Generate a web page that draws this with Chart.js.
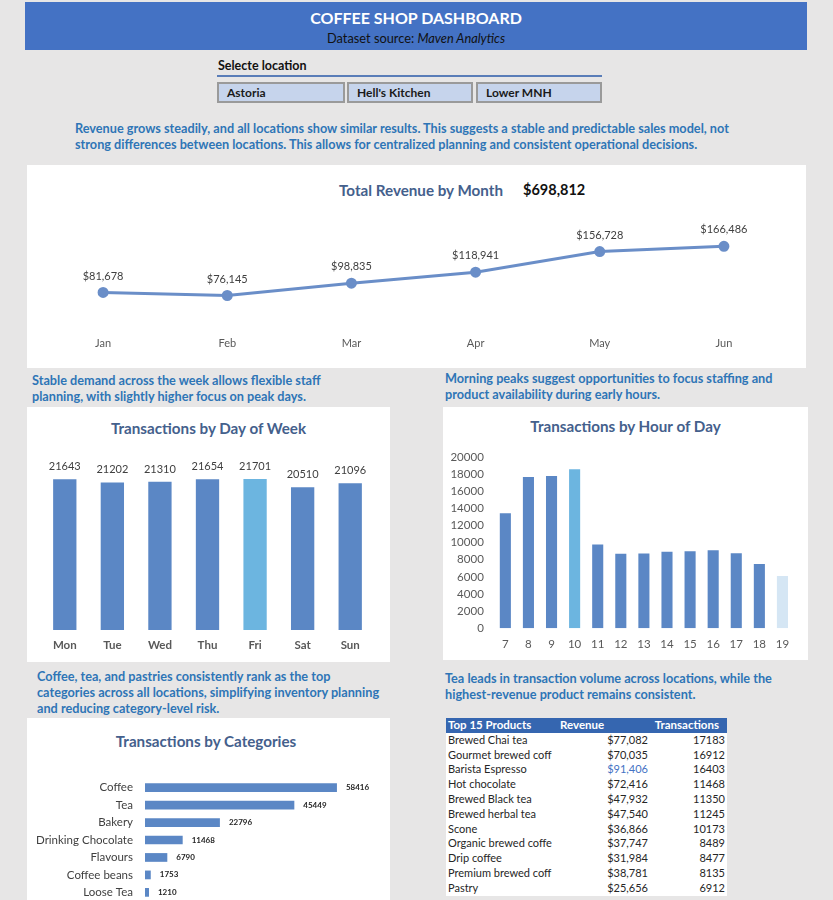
<!DOCTYPE html>
<html>
<head>
<meta charset="utf-8">
<script src="https://cdn.jsdelivr.net/npm/chart.js@4/dist/chart.umd.min.js"></script>
<style>
  html, body { margin:0; padding:0; }
  body { width:833px; height:900px; overflow:hidden; background:#e7e6e6; position:relative; font-family:Lato, "Open Sans", sans-serif; }
  .abs { position:absolute; }
  .card { position:absolute; background:#fff; }
  .note { position:absolute; color:#2e75b6; font-weight:bold; font-size:12.7px; line-height:16px; white-space:nowrap; }
  .ctitle { position:absolute; color:#44608c; font-weight:bold; font-size:15.2px; text-align:center; }
  canvas { position:absolute; }
  .btn { position:absolute; top:82px; height:17px; background:#c6d4ec; border:2px solid #9a9a9a; font-weight:bold; font-size:12px; line-height:17px; padding-left:8px; box-sizing:content-box; color:#1a1a1a; }
  table { border-collapse:collapse; font-size:11px; color:#262626; }
  td { padding:0 2px; height:14.8px; line-height:14.8px; white-space:nowrap; overflow:hidden; }
</style>
</head>
<body>
<div class="abs" style="left:25px;top:2px;width:782px;height:48px;background:#4472c4;"></div>
<div class="abs" style="left:25px;top:8px;width:782px;text-align:center;color:#fff;font-weight:bold;font-size:16px;">COFFEE SHOP DASHBOARD</div>
<div class="abs" style="left:25px;top:30px;width:782px;text-align:center;color:#111;font-size:12.8px;">Dataset source: <i>Maven Analytics</i></div>

<div class="abs" style="left:218px;top:58px;font-size:12.5px;font-weight:bold;color:#111;">Selecte location</div>
<div class="abs" style="left:217px;top:75px;width:385px;height:2px;background:#5a7db8;"></div>
<div class="btn" style="left:217px;width:116px;">Astoria</div>
<div class="btn" style="left:347px;width:114px;">Hell's Kitchen</div>
<div class="btn" style="left:476px;width:114px;">Lower MNH</div>

<div class="note" style="left:75px;top:120px;">Revenue grows steadily, and all locations show similar results. This suggests a stable and predictable sales model, not<br>strong differences between locations. This allows for centralized planning and consistent operational decisions.</div>

<div class="card" style="left:27px;top:165px;width:779px;height:203px;"></div>
<div class="ctitle" style="left:321px;top:181px;width:200px;">Total Revenue by Month</div>
<div class="abs" style="left:523px;top:181px;font-weight:bold;font-size:14.5px;color:#111;">$698,812</div>
<canvas id="revChart" width="779" height="160" style="left:27px;top:200px;"></canvas>

<div class="note" style="left:32px;top:372px;">Stable demand across the week allows flexible staff<br>planning, with slightly higher focus on peak days.</div>
<div class="note" style="left:445px;top:370px;">Morning peaks suggest opportunities to focus staffing and<br>product availability during early hours.</div>

<div class="card" style="left:27px;top:407px;width:363px;height:255px;"></div>
<div class="ctitle" style="left:27px;top:419px;width:363px;">Transactions by Day of Week</div>
<canvas id="dayChart" width="363" height="220" style="left:27px;top:440px;"></canvas>

<div class="card" style="left:443px;top:407px;width:365px;height:253px;"></div>
<div class="ctitle" style="left:443px;top:417px;width:365px;">Transactions by Hour of Day</div>
<canvas id="hourChart" width="365" height="220" style="left:443px;top:440px;"></canvas>

<div class="note" style="left:37px;top:668px;">Coffee, tea, and pastries consistently rank as the top<br>categories across all locations, simplifying inventory planning<br>and reducing category-level risk.</div>
<div class="note" style="left:445px;top:670px;">Tea leads in transaction volume across locations, while the<br>highest-revenue product remains consistent.</div>

<div class="card" style="left:27px;top:718px;width:363px;height:240px;"></div>
<div class="ctitle" style="left:27px;top:732px;width:358px;">Transactions by Categories</div>
<canvas id="catChart" width="363" height="160" style="left:27px;top:760px;"></canvas>

<div class="abs" style="left:446px;top:718px;width:281px;background:#fff;">
  <table id="prodTable" style="width:281px;"></table>
</div>

<script>
// revenue by month
const months = ['Jan', 'Feb', 'Mar', 'Apr', 'May', 'Jun'];
const revenue = [81678, 76145, 98835, 118941, 156728, 166486];

// transactions by weekday
const days = ['Mon', 'Tue', 'Wed', 'Thu', 'Fri', 'Sat', 'Sun'];
const dayTx = [21643, 21202, 21310, 21654, 21701, 20510, 21096];

// transactions by hour
const hours = ['7', '8', '9', '10', '11', '12', '13', '14', '15', '16', '17', '18', '19'];
const hourTx = [13428, 17654, 17764, 18545, 9766, 8708, 8714, 8933, 8979, 9093, 8745, 7498, 6092];
const hourTicks = [0, 2000, 4000, 6000, 8000, 10000, 12000, 14000, 16000, 18000, 20000];

// categories
const categories = ['Coffee', 'Tea', 'Bakery', 'Drinking Chocolate', 'Flavours', 'Coffee beans', 'Loose Tea'];
const catTx = [58416, 45449, 22796, 11468, 6790, 1753, 1210];

// top products table
const products = ['Brewed Chai tea', 'Gourmet brewed coff', 'Barista Espresso', 'Hot chocolate', 'Brewed Black tea',
  'Brewed herbal tea', 'Scone', 'Organic brewed coffe', 'Drip coffee', 'Premium brewed coff', 'Pastry'];
const prodRevenue = [77082, 70035, 91406, 72416, 47932, 47540, 36866, 37747, 31984, 38781, 25656];
const prodTx = [17183, 16912, 16403, 11468, 11350, 11245, 10173, 8489, 8477, 8135, 6912];

const BAR = '#5b87c5';
const HILITE = '#6cb5e0';
const FONT = 'Lato, "Open Sans", sans-serif';

// draws value labels next to each mark (no datalabels plugin available)
function valueLabels(fmt, font, color, offset, side) {
  return {
    id: 'valueLabels',
    afterDatasetsDraw(chart) {
      const ctx = chart.ctx;
      chart.data.datasets.forEach((ds, i) => {
        chart.getDatasetMeta(i).data.forEach((el, j) => {
          ctx.save();
          ctx.font = font;
          ctx.fillStyle = color;
          const txt = fmt(ds.data[j]);
          if (side === 'right') {
            ctx.textAlign = 'left'; ctx.textBaseline = 'middle';
            ctx.fillText(txt, el.x + offset, el.y);
          } else {
            ctx.textAlign = 'center'; ctx.textBaseline = 'bottom';
            ctx.fillText(txt, el.x, el.y - offset);
          }
          ctx.restore();
        });
      });
    }
  };
}

const money = v => '$' + v.toLocaleString('en-US');

new Chart(document.getElementById('revChart'), {
  type: 'line',
  data: {
    labels: months,
    datasets: [{
      data: revenue,
      borderColor: '#6a8ec8', backgroundColor: '#6a8ec8',
      borderWidth: 3, pointRadius: 4, pointBackgroundColor: '#6a8ec8', tension: 0
    }]
  },
  options: {
    responsive: false, animation: false,
    layout: { padding: { left: 14, right: 20, top: 28, bottom: 0 } },
    plugins: { legend: { display: false }, tooltip: { enabled: false } },
    scales: {
      x: { offset: true, grid: { display: false, drawTicks: false }, border: { display: false },
           ticks: { color: '#595959', padding: 0, font: { size: 11, family: FONT } },
           afterFit: s => { s.height = 23; } },
      y: { display: false, min: 0, max: 200000 }
    }
  },
  plugins: [valueLabels(money, '11px ' + FONT, '#404040', 11, 'top')]
});

new Chart(document.getElementById('dayChart'), {
  type: 'bar',
  data: {
    labels: days,
    datasets: [{
      data: dayTx,
      backgroundColor: days.map(d => d === 'Fri' ? HILITE : BAR),
      barPercentage: 0.49, categoryPercentage: 1
    }]
  },
  options: {
    responsive: false, animation: false,
    layout: { padding: { left: 14, right: 16, top: 16, bottom: 0 } },
    plugins: { legend: { display: false }, tooltip: { enabled: false } },
    scales: {
      x: { grid: { display: false, drawTicks: false }, border: { display: false },
           ticks: { color: '#595959', padding: 8, font: { size: 11.5, weight: 'bold', family: FONT } },
           afterFit: s => { s.height = 30; } },
      y: { display: false, min: 0, max: 25000 }
    }
  },
  plugins: [valueLabels(v => String(v), '11px ' + FONT, '#404040', 7, 'top')]
});

new Chart(document.getElementById('hourChart'), {
  type: 'bar',
  data: {
    labels: hours,
    datasets: [{
      data: hourTx,
      backgroundColor: hours.map(h => h === '10' ? HILITE : (h === '19' ? '#d5e6f4' : BAR)),
      barPercentage: 0.48, categoryPercentage: 1
    }]
  },
  options: {
    responsive: false, animation: false,
    layout: { padding: { left: 0, right: 14, top: 14, bottom: 0 } },
    plugins: { legend: { display: false }, tooltip: { enabled: false } },
    scales: {
      x: { grid: { display: false, drawTicks: false }, border: { display: false },
           ticks: { color: '#595959', padding: 9, font: { size: 11.5, family: FONT } },
           afterFit: s => { s.height = 31.7; } },
      y: { min: 0, max: 20000, grid: { display: false, drawTicks: false }, border: { display: false },
           afterBuildTicks: s => { s.ticks = hourTicks.map(v => ({ value: v })); },
           ticks: { color: '#595959', padding: 10, font: { size: 11.5, family: FONT }, callback: v => String(v) },
           afterFit: s => { s.width = 50.8; } }
    }
  }
});

new Chart(document.getElementById('catChart'), {
  type: 'bar',
  data: {
    labels: categories,
    datasets: [{ data: catTx, backgroundColor: BAR, barPercentage: 0.5, categoryPercentage: 1 }]
  },
  options: {
    indexAxis: 'y',
    responsive: false, animation: false,
    layout: { padding: { left: 0, right: 15, top: 8, bottom: 11 } },
    plugins: { legend: { display: false }, tooltip: { enabled: false } },
    scales: {
      x: { display: false, min: 0, max: 70000 },
      y: { grid: { display: false, drawTicks: false }, border: { display: false },
           ticks: { color: '#404040', padding: 12, font: { size: 11.5, family: FONT } },
           afterFit: s => { s.width = 118; } }
    }
  },
  plugins: [valueLabels(v => String(v), 'bold 8px ' + FONT, '#262626', 9, 'right')]
});

// product table
const best = Math.max(...prodRevenue);
let html = '<tr style="background:#3566b0;color:#fff;font-weight:bold;font-size:11.5px;">' +
  '<td style="width:104px;">Top 15 Products</td><td style="width:86px;padding-left:6px;">Revenue</td><td style="text-align:right;padding-right:8px;">Transactions</td></tr>';
products.forEach((p, i) => {
  const col = prodRevenue[i] === best ? 'color:#4472c4;' : '';
  html += '<tr><td style="max-width:104px;">' + p + '</td>' +
    '<td style="text-align:right;padding-right:0;' + col + '">' + money(prodRevenue[i]) + '</td>' +
    '<td style="text-align:right;">' + prodTx[i] + '</td></tr>';
});
document.getElementById('prodTable').innerHTML = html;
</script>
</body>
</html>
